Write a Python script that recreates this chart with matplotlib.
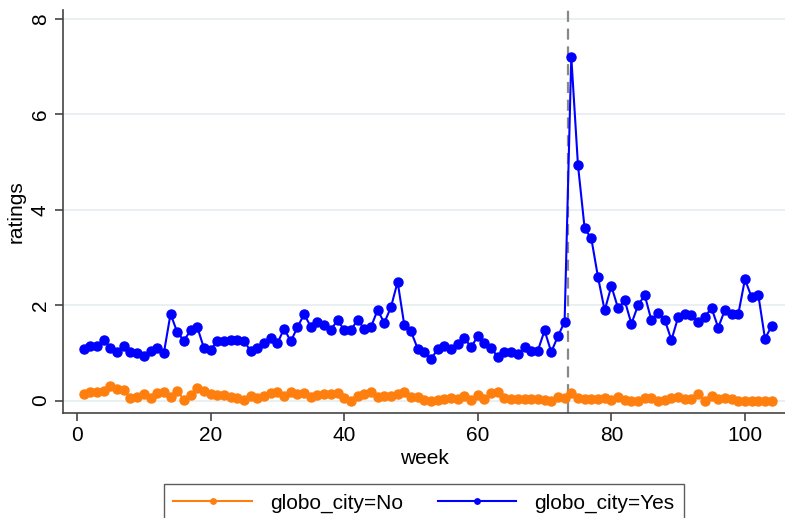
import numpy as np
import matplotlib
matplotlib.use("Agg")
import matplotlib.pyplot as plt

plt.rcParams['font.family'] = ['Liberation Sans', 'DejaVu Sans']

weeks = np.arange(1, 105)

ratings_yes = [
    1.09, 1.15, 1.15, 1.28, 1.10, 1.02, 1.15, 1.02, 1.00, 0.94,
    1.05, 1.11, 1.00, 1.82, 1.43, 1.26, 1.47, 1.54, 1.10, 1.07,
    1.24, 1.24, 1.28, 1.28, 1.26, 1.03, 1.11, 1.20, 1.31, 1.20,
    1.51, 1.24, 1.54, 1.81, 1.55, 1.64, 1.59, 1.49, 1.68, 1.49,
    1.47, 1.70, 1.50, 1.54, 1.90, 1.63, 1.96, 2.49, 1.58, 1.45,
    1.09, 1.01, 0.87, 1.08, 1.15, 1.08, 1.18, 1.31, 1.12, 1.35,
    1.21, 1.11, 0.91, 1.01, 1.02, 0.97, 1.12, 1.03, 1.05, 1.47,
    1.02, 1.35, 1.65, 7.21, 4.94, 3.61, 3.40, 2.59, 1.89, 2.40,
    1.94, 2.10, 1.61, 2.00, 2.21, 1.68, 1.83, 1.69, 1.27, 1.75,
    1.81, 1.79, 1.65, 1.76, 1.94, 1.53, 1.90, 1.81, 1.81, 2.54,
    2.17, 2.22, 1.30, 1.56,
]

ratings_no = [
    0.14, 0.17, 0.18, 0.20, 0.30, 0.24, 0.22, 0.06, 0.08, 0.13,
    0.05, 0.15, 0.18, 0.08, 0.20, 0.02, 0.12, 0.26, 0.21, 0.13,
    0.12, 0.11, 0.08, 0.05, 0.02, 0.10, 0.06, 0.10, 0.16, 0.18,
    0.10, 0.18, 0.13, 0.15, 0.07, 0.12, 0.14, 0.14, 0.15, 0.05,
    0.00, 0.09, 0.14, 0.19, 0.07, 0.09, 0.09, 0.14, 0.17, 0.07,
    0.07, 0.01, 0.00, 0.02, 0.04, 0.06, 0.04, 0.09, 0.02, 0.12,
    0.04, 0.15, 0.19, 0.06, 0.04, 0.04, 0.04, 0.04, 0.04, 0.02,
    0.00, 0.08, 0.05, 0.15, 0.06, 0.03, 0.03, 0.03, 0.06, 0.01,
    0.08, 0.01, 0.00, 0.00, 0.06, 0.06, 0.00, 0.02, 0.06, 0.08,
    0.03, 0.03, 0.13, 0.00, 0.10, 0.03, 0.06, 0.03, 0.00, 0.00,
    0.00, 0.00, 0.00, 0.00,
]

event_week = 73.5
fs = 15

fig = plt.figure(figsize=(7.85, 5.18), dpi=100)
ax = fig.add_axes([0.0803, 0.2027, 0.9197, 0.778])

for y in [0, 2, 4, 6, 8]:
    ax.axhline(y, color='#e8eef0', linewidth=1.3, zorder=0)

ax.plot(weeks, ratings_no, color='#ff7f0e', marker='o', markersize=6.5,
        linewidth=1.5, label='globo_city=No', zorder=3)
ax.plot(weeks, ratings_yes, color='#0000ff', marker='o', markersize=6.5,
        linewidth=1.5, label='globo_city=Yes', zorder=3)
ax.axvline(event_week, color='#888888', linestyle=(0, (5, 3)), linewidth=1.6, zorder=2)

ax.set_xlim(-2.1, 106)
ax.set_ylim(-0.26, 8.19)
ax.set_xticks([0, 20, 40, 60, 80, 100])
ax.set_yticks([0, 2, 4, 6, 8])
ax.tick_params(axis='both', direction='out', length=6, width=1.2,
               color='#444444', labelsize=fs)
ax.tick_params(axis='y', labelrotation=90)
for lbl in ax.get_yticklabels():
    lbl.set_va('center')

for side in ['top', 'right']:
    ax.spines[side].set_visible(False)
for side in ['left', 'bottom']:
    ax.spines[side].set_color('#444444')
    ax.spines[side].set_linewidth(1.2)

ax.set_xlabel('week', fontsize=fs, labelpad=3)
ax.set_ylabel('ratings', fontsize=fs, labelpad=4)

fig.legend(loc='upper center', bbox_to_anchor=(424 / 785, 1 - 474 / 518),
           ncol=2, fontsize=fs, frameon=True, fancybox=False,
           edgecolor='#333333', markerscale=0.6, handlelength=3.75,
           columnspacing=1.7, borderpad=0.45, handletextpad=0.87)

fig.savefig('out.png', dpi=100)
